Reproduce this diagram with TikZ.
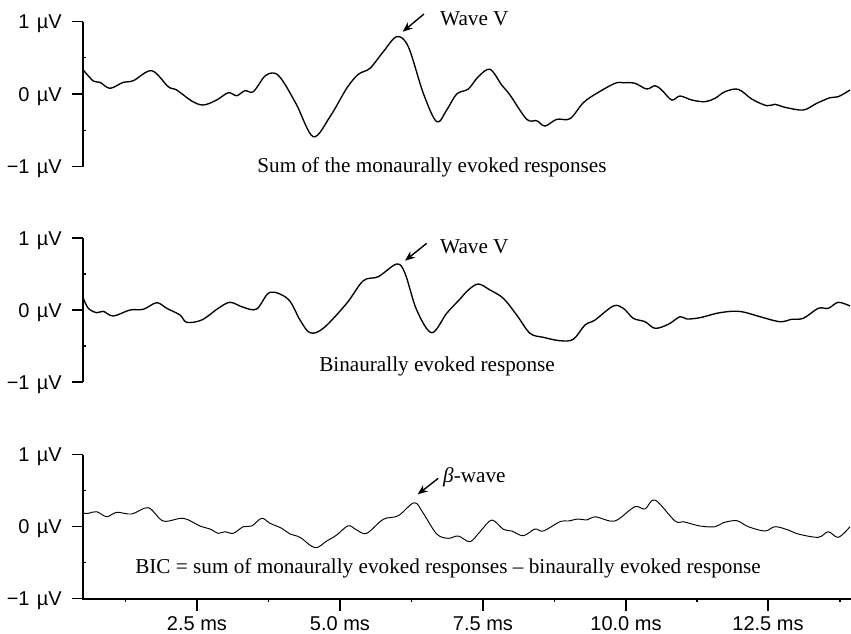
\documentclass[tikz,border=0pt]{standalone}
\usepackage{fontspec}
\setmainfont{Liberation Serif}
\newfontfamily\axisfont{Liberation Sans}
\usetikzlibrary{arrows.meta}
\tikzset{
  axisline/.style={line width=1.8pt, line cap=butt},
  ticklab/.style={font=\axisfont\fontsize{20}{20}\selectfont, inner sep=0pt},
  caption/.style={font=\fontsize{21.2}{21.2}\selectfont, inner sep=0pt},
  trace/.style={line width=1.35pt, line join=round, smooth, tension=0.55},
  thintrace/.style={line width=0.95pt, line join=round, smooth, tension=0.55},
  pointer/.style={line width=1.4pt, -{Stealth[length=10pt,width=8pt]}},
}
\newcommand{\uv}{\hspace{1.8pt}µV}
\begin{document}
\begin{tikzpicture}[x=1pt,y=-1pt]
\useasboundingbox (0,0) rectangle (851,633);

% ---------- vertical axes, one per panel ----------
\foreach \top/\mid/\bot in {21.5/94/166.5, 238/310/382, 454.5/526.5/598.5}{
  \draw[axisline] (83,\top) -- (83,\bot);
  \draw[axisline] (72,\top) -- (83,\top);
  \draw[axisline] (72,\mid) -- (83,\mid);
  \draw[axisline] (72,\bot) -- (83,\bot);
  \draw[line width=1.2pt] (83,{(\top+\mid)/2}) -- (86,{(\top+\mid)/2});
  \draw[line width=1.2pt] (83,{(\mid+\bot)/2}) -- (86,{(\mid+\bot)/2});
  \node[ticklab, anchor=base east] at (62,\top+7) {1 \uv};
  \node[ticklab, anchor=base east] at (62,\mid+7) {0 \uv};
  \node[ticklab, anchor=base east] at (62,\bot+7) {−1 \uv};
}

% ---------- time axis ----------
\draw[axisline] (82.1,599) -- (851,599);
\foreach \xx/\lab in {197/2.5, 340/5.0, 483/7.5, 626/10.0, 768/12.5}{
  \draw[axisline] (\xx,599) -- (\xx,611);
  \node[ticklab, anchor=base] at (\xx,630) {\lab\ ms};
}
\foreach \xx in {125.5, 268.5, 411.5, 554.5, 697, 840}{
  \draw[line width=1.2pt] (\xx,599) -- (\xx,602);
}

% ---------- sum of the monaural responses ----------
\draw[trace] plot coordinates {
(83.3,70) (93.3,81) (100,82.3) (110,88.3) (123.3,82.3) (133.3,80.7)
(151.7,70.7) (168.3,86.7) (176.7,90) (191.7,101) (203.3,105) (216.7,100)
(228.3,92.7) (236.7,95.7) (245,90.7) (253.3,91.7) (265,76) (275,73.3)
(283.3,81.7) (296.7,105) (313.3,136.7) (330,116.7) (346.7,88.3) (358.3,74.3)
(370,68.3) (383.3,51.7) (396.7,36.7) (408.3,46.7) (423.3,93.3) (436.7,121.7)
(446.7,110) (456.7,94) (468.3,89) (478.3,76.7) (490,69.3) (501.7,85)
(510,95) (526.7,119.3) (536.7,120.7) (545,126) (556.7,119.3) (570,118.7)
(583.3,102.7) (596.7,93.3) (615,83.3) (623.3,82.7) (635,83.3) (646.7,89)
(655,85.7) (661.7,90) (671.7,100) (680,96) (691.7,100) (705,101.7)
(715,98.3) (725,91.7) (738.3,89.3) (751.7,99) (766.7,105.7) (775,104.3)
(785,107.3) (803.3,110) (816.7,103.3) (830,97.7) (838.3,96.7) (850,90)};
\node[caption, anchor=base] (cap1) at (432,172) {Sum of the monaurally evoked responses};
\node[caption, anchor=base west] (w1) at (440,25) {Wave V};
\coordinate (w1tail) at (424,14);
\coordinate (w1peak) at (402.7,31.7);
\draw[pointer] (w1tail) -- (w1peak);

% ---------- binaural response ----------
\draw[trace] plot coordinates {
(83.3,298.3) (88.3,308.3) (96.7,312.7) (103.3,311.3) (113.3,316) (130,310)
(143.3,309.3) (156.7,302.7) (166.7,308.3) (180,315) (186.7,322.3) (201.7,320)
(218.3,308.3) (230,302.3) (243.3,307.3) (256.7,309) (270,292.3) (288.3,299.3)
(300,320) (310,332.7) (323.3,328.3) (346.7,303.3) (363.3,280.7) (378.3,276.7)
(396.7,264) (405,273.3) (416.7,310) (431.7,332.7) (446.7,313.3) (460,299)
(468.3,290) (478.3,284) (490,290) (503.3,298.3) (516.7,315) (530,333.3)
(543.3,337.3) (560,340.7) (573.3,339.3) (585,325) (595,320) (613.3,306)
(623.3,308.3) (633.3,318.3) (645,321.7) (655,328.3) (668.3,324.3) (680,316.7)
(686.7,319) (700,317.7) (716.7,313.3) (731.7,311.3) (743.3,312) (760,316.7)
(780,321.7) (791.7,319.3) (803.3,318.3) (818.3,308.3) (828.3,308.3) (838.3,302.3)
(850,306)};
\node[caption, anchor=base] (cap2) at (437,371) {Binaurally evoked response};
\node[caption, anchor=base west] (w2) at (440,253) {Wave V};
\coordinate (w2tail) at (426.7,243.3);
\coordinate (w2peak) at (405,260.7);
\draw[pointer] (w2tail) -- (w2peak);

% ---------- binaural interaction component ----------
\draw[thintrace] plot coordinates {
(83.3,513.3) (88.3,513.3) (96.7,511.7) (106.7,516.7) (116.7,512.3) (131.7,514)
(148.3,507.7) (163.3,521) (183.3,518.3) (200,526) (210,529) (218.3,533.3)
(225,531.7) (233.3,533.3) (243.3,526.7) (251.7,526) (261.7,518.3) (270,523.3)
(281.7,528.3) (290,534) (300,537.3) (315,547.7) (326.7,541) (336.7,535)
(348.3,525.7) (356.7,530) (366.7,533.3) (383.3,519.3) (398.3,515.7) (414.3,502.7)
(423.3,513.3) (436.7,534) (448.3,538.3) (458.3,536) (470,541.7) (480,531.7)
(491.7,520) (503.3,529.3) (511.7,531) (523.3,535.7) (535,529) (543.3,531)
(560,521.7) (568.3,521) (578.3,519) (586.7,520) (595,516.7) (610,521)
(618.3,519.3) (635,506.7) (645,509) (655,500) (675,521) (683.3,521.7)
(700,526) (715,526.7) (723.3,522.7) (736.7,520.7) (748.3,526.7) (765,531)
(775,526.7) (788.3,530) (798.3,534) (818.3,537.3) (828.3,531.7) (838.3,537.3)
(850,526.7)};
\node[caption, anchor=base] (cap3) at (448,573) {BIC = sum of monaurally evoked responses – binaurally evoked response};
\node[caption, anchor=base west] (b3) at (443,482) {\textit{β}-wave};
\coordinate (b3tail) at (438.3,478.3);
\coordinate (b3peak) at (417.7,494.3);
\draw[pointer] (b3tail) -- (b3peak);
\end{tikzpicture}
\end{document}
